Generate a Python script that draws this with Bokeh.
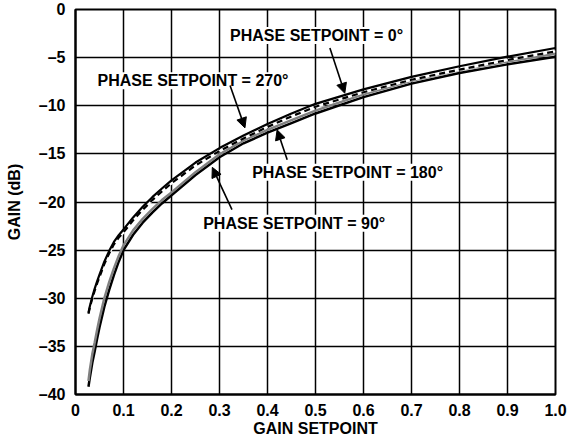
import math
from bokeh.plotting import figure
from bokeh.models import Arrow, NormalHead, Label, FixedTicker, Range1d
from bokeh.embed import file_html
from bokeh.resources import INLINE

# ---- data ----
setpoint = [0.027, 0.03, 0.035, 0.04, 0.045, 0.05, 0.06, 0.07, 0.08, 0.09, 0.1,
            0.12, 0.14, 0.16, 0.18, 0.2, 0.25, 0.3, 0.35, 0.4, 0.45, 0.5,
            0.6, 0.7, 0.8, 0.9, 1.0]
gain_270 = [-31.5, -30.8, -29.85, -29.0, -28.25, -27.55, -26.2, -25.1, -24.15, -23.45, -22.85,
            -21.6, -20.5, -19.5, -18.6, -17.75, -15.9, -14.4, -13.1, -11.9, -10.8, -9.8,
            -8.3, -7.0, -5.9, -4.9, -4.0]
gain_0 = [-31.6, -30.95, -30.0, -29.2, -28.45, -27.8, -26.45, -25.35, -24.4, -23.7, -23.15,
          -21.9, -20.8, -19.8, -18.9, -18.05, -16.2, -14.7, -13.4, -12.2, -11.1, -10.1,
          -8.6, -7.3, -6.25, -5.25, -4.35]
gain_90 = [-38.6, -37.4, -35.8, -34.6, -33.3, -32.1, -30.0, -28.35, -26.9, -25.6, -24.5,
           -22.95, -21.75, -20.75, -19.8, -19.0, -16.9, -15.05, -13.6, -12.5, -11.5, -10.5,
           -8.8, -7.4, -6.3, -5.4, -4.6]
gain_180 = [-39.2, -38.2, -36.7, -35.5, -34.2, -33.0, -30.9, -29.15, -27.6, -26.2, -25.0,
            -23.4, -22.15, -21.1, -20.15, -19.3, -17.2, -15.35, -13.9, -12.8, -11.8, -10.8,
            -9.1, -7.7, -6.6, -5.7, -4.9]

x_ticks = [0, 0.1, 0.2, 0.3, 0.4, 0.5, 0.6, 0.7, 0.8, 0.9, 1.0]
x_tick_labels = ["0", "0.1", "0.2", "0.3", "0.4", "0.5", "0.6", "0.7", "0.8", "0.9", "1.0"]
y_ticks = [-40, -35, -30, -25, -20, -15, -10, -5, 0]
y_tick_labels = ["\u201340", "\u201335", "\u201330", "\u201325", "\u201320",
                 "\u201315", "\u201310", "\u20135", "0"]

FONT = "Liberation Sans"

p = figure(width=568, height=446, x_range=Range1d(0, 1), y_range=Range1d(-40, 0),
           output_backend="svg", toolbar_location=None,
           min_border_left=75, min_border_right=13, min_border_top=9, min_border_bottom=52)

p.outline_line_color = "black"
p.outline_line_width = 2
p.background_fill_color = "white"
p.border_fill_color = "white"

p.xaxis.ticker = FixedTicker(ticks=x_ticks)
p.yaxis.ticker = FixedTicker(ticks=y_ticks)
p.xaxis.major_label_overrides = {t: l for t, l in zip(x_ticks, x_tick_labels)}
p.yaxis.major_label_overrides = {t: l for t, l in zip(y_ticks, y_tick_labels)}

for ax in (p.xaxis[0], p.yaxis[0]):
    ax.major_tick_out = 0
    ax.major_tick_in = 0
    ax.minor_tick_out = 0
    ax.minor_tick_in = 0
    ax.axis_line_color = "black"
    ax.axis_line_width = 2
    ax.major_label_text_font = FONT
    ax.major_label_text_font_style = "bold"
    ax.major_label_text_font_size = "16px"
    ax.major_label_text_color = "black"
    ax.axis_label_text_font = FONT
    ax.axis_label_text_font_style = "bold"
    ax.axis_label_text_font_size = "16px"
    ax.axis_label_text_color = "black"

p.xaxis.axis_label = "GAIN SETPOINT"
p.yaxis.axis_label = "GAIN (dB)"
p.xaxis.major_label_standoff = 9
p.xaxis.axis_label_standoff = 1
p.yaxis.major_label_standoff = 10
p.yaxis.axis_label_standoff = 13

p.grid.grid_line_color = "black"
p.grid.grid_line_width = 1.5
p.grid.grid_line_alpha = 1.0

# curves
p.line(setpoint, gain_180, line_color="black", line_width=2.5)
p.line(setpoint, gain_90, line_color="#808080", line_width=2.5)
p.line(setpoint, gain_0, line_color="white", line_width=2.5)
p.line(setpoint, gain_0, line_color="black", line_width=2.2, line_dash="6 4")
p.line(setpoint, gain_270, line_color="black", line_width=2.2)

# annotations
def add_label(x, y, text):
    p.add_layout(Label(x=x, y=y, text=text, text_font=FONT, text_font_style="bold",
                       text_font_size="16px", text_color="black",
                       text_align="left", text_baseline="middle",
                       background_fill_color="white", background_fill_alpha=1.0))

add_label(0.322, -2.7, "PHASE SETPOINT = 0\u00b0")
add_label(0.046, -7.4, "PHASE SETPOINT = 270\u00b0")
add_label(0.368, -16.9, "PHASE SETPOINT = 180\u00b0")
add_label(0.266, -22.2, "PHASE SETPOINT = 90\u00b0")

def add_arrow(x0, y0, x1, y1):
    p.add_layout(Arrow(x_start=x0, y_start=y0, x_end=x1, y_end=y1,
                       line_color="black", line_width=1.6,
                       end=NormalHead(size=10, fill_color="black", line_color="black",
                                      line_width=1)))

add_arrow(0.530, -4.0, 0.561, -8.7)
add_arrow(0.322, -7.9, 0.353, -12.3)
add_arrow(0.441, -15.6, 0.420, -12.5)
add_arrow(0.326, -20.8, 0.285, -16.4)

p.add_layout(Label(x=1.0, y=-39.3, x_offset=6, text="04700-003", angle=math.pi / 2,
                   text_font=FONT, text_font_size="8px", text_color="black",
                   text_align="left", text_baseline="middle"))

open("out.html", "w").write(file_html(p, INLINE))
